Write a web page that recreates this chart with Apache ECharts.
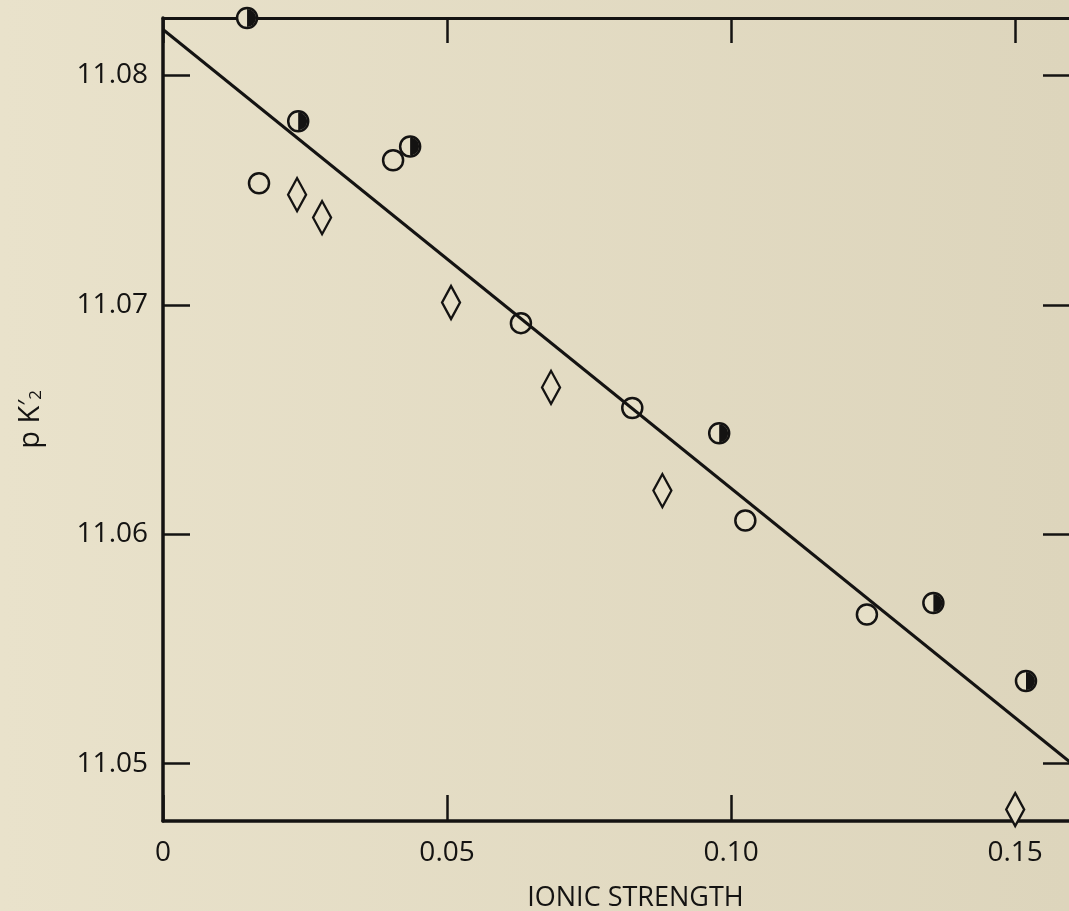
<!DOCTYPE html>
<html>
<head>
<meta charset="utf-8">
<title>pK'2 vs ionic strength</title>
<script src="https://cdn.jsdelivr.net/npm/echarts@6/dist/echarts.min.js"></script>
<style>
  html, body { margin: 0; padding: 0; background: #e6dfc7; }
  #chart { width: 1069px; height: 911px; }
</style>
</head>
<body>
<div id="chart"></div>
<script>
// three sets of pK'2 readings against ionic strength
const halfIonic = [0.0148, 0.0238, 0.0435, 0.0979, 0.1356, 0.1519];
const halfPK = [11.0825, 11.0780, 11.0769, 11.0644, 11.0570, 11.0536];
const openIonic = [0.0169, 0.0405, 0.0630, 0.0826, 0.1025, 0.1239];
const openPK = [11.0753, 11.0763, 11.0692, 11.0655, 11.0606, 11.0565];
const diamondIonic = [0.0236, 0.0280, 0.0507, 0.0683, 0.0879, 0.1500];
const diamondPK = [11.0748, 11.0738, 11.0701, 11.0664, 11.0619, 11.0480];
// fitted straight line, end points
const fitIonic = [0, 0.16];
const fitPK = [11.0820, 11.0500];
// tick labels
const xTicks = [0, 0.05, 0.10, 0.15];
const yTicks = [11.05, 11.06, 11.07, 11.08];

const ink = "#141312";
const paper = "#e6dfc7";
const font = "Open Sans";

const pairs = (xs, ys) => xs.map((x, i) => [x, ys[i]]);

let myChart = echarts.init(document.getElementById("chart"));
myChart.setOption({
  backgroundColor: new echarts.graphic.LinearGradient(0, 0, 1, 0, [
    { offset: 0, color: "#e9e2cb" },
    { offset: 1, color: "#ddd5bc" },
  ]),
  animation: false,
  textStyle: { fontFamily: font, color: ink },
  grid: { left: 163, top: 18, width: 909, height: 803, outerBoundsMode: "none" },
  xAxis: [
    {
      type: "value",
      position: "bottom",
      min: 0,
      max: 0.16,
      name: "IONIC STRENGTH",
      nameLocation: "middle",
      nameGap: 64,
      nameTextStyle: { fontSize: 27, color: ink, padding: [0, 0, 0, 36] },
      axisLine: { onZero: false, lineStyle: { color: ink, width: 3.5 } },
      axisTick: {
        inside: true,
        length: 26,
        customValues: xTicks,
        lineStyle: { color: ink, width: 2.5 },
      },
      axisLabel: {
        customValues: xTicks,
        margin: 18,
        fontSize: 28,
        color: ink,
        formatter: (v) => (v === 0 ? "0" : v.toFixed(2)),
      },
      splitLine: { show: false },
    },
    {
      type: "value",
      position: "top",
      min: 0,
      max: 0.16,
      axisLine: { onZero: false, lineStyle: { color: ink, width: 3 } },
      axisTick: {
        inside: true,
        length: 25,
        customValues: xTicks,
        lineStyle: { color: ink, width: 2.5 },
      },
      axisLabel: { show: false },
      splitLine: { show: false },
    },
  ],
  yAxis: [
    {
      type: "value",
      position: "left",
      min: 11.0475,
      max: 11.0825,
      name: "{p|p K}{q|′}{s|2}",
      nameLocation: "middle",
      nameGap: 118,
      nameRotate: 90,
      nameTextStyle: {
        rich: {
          p: { fontSize: 29, color: ink, fontFamily: font },
          q: { fontSize: 26, color: ink, fontFamily: font, verticalAlign: "top" },
          s: { fontSize: 17, color: ink, fontFamily: font, verticalAlign: "bottom" },
        },
      },
      axisLine: { onZero: false, lineStyle: { color: ink, width: 3.5 } },
      axisTick: {
        inside: true,
        length: 27,
        customValues: yTicks,
        lineStyle: { color: ink, width: 2.5 },
      },
      axisLabel: {
        customValues: yTicks,
        margin: 15,
        fontSize: 28,
        color: ink,
        formatter: (v) => v.toFixed(2),
      },
      splitLine: { show: false },
    },
    {
      type: "value",
      position: "right",
      min: 11.0475,
      max: 11.0825,
      axisLine: { onZero: false, lineStyle: { color: ink, width: 3 } },
      axisTick: {
        inside: true,
        length: 29,
        customValues: yTicks,
        lineStyle: { color: ink, width: 2.5 },
      },
      axisLabel: { show: false },
      splitLine: { show: false },
    },
  ],
  series: [
    {
      type: "line",
      data: pairs(fitIonic, fitPK),
      showSymbol: false,
      lineStyle: { color: ink, width: 3 },
    },
    {
      type: "scatter",
      clip: false,
      symbol: "diamond",
      symbolSize: [18, 33],
      data: pairs(diamondIonic, diamondPK),
      itemStyle: { color: paper, borderColor: ink, borderWidth: 2.5, opacity: 1 },
    },
    {
      type: "scatter",
      clip: false,
      symbol: "circle",
      symbolSize: 20,
      data: pairs(openIonic, openPK),
      itemStyle: { color: paper, borderColor: ink, borderWidth: 2.5, opacity: 1 },
    },
    {
      type: "scatter",
      clip: false,
      symbol: "circle",
      symbolSize: 20,
      data: pairs(halfIonic, halfPK),
      itemStyle: { color: paper, borderColor: ink, borderWidth: 2.5, opacity: 1 },
    },
    {
      // filled right half of the half-black circles
      type: "scatter",
      clip: false,
      symbol: "path://M0,0A10,10,0,0,1,0,20Z",
      symbolSize: [9, 18],
      symbolOffset: [4.5, 0],
      data: pairs(halfIonic, halfPK),
      itemStyle: { color: ink, opacity: 1 },
    },
  ],
});
</script>
</body>
</html>
